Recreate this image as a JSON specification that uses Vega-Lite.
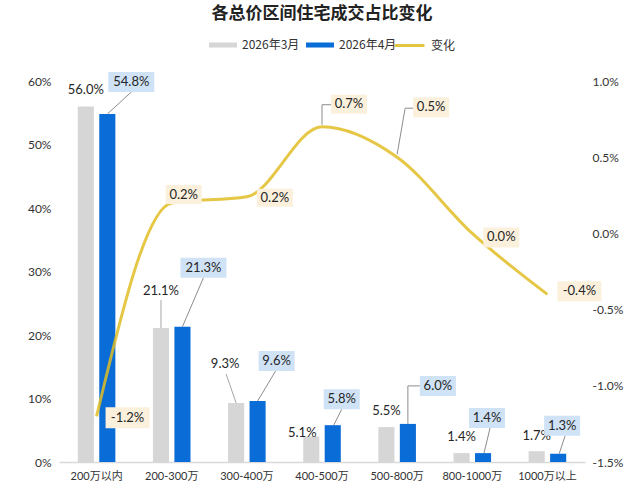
{
  "$schema": "https://vega.github.io/schema/vega-lite/v6.json",
  "width": 526,
  "height": 381,
  "autosize": {"type": "none"},
  "padding": {"left": 59, "top": 81, "right": 55, "bottom": 31},
  "background": "white",
  "title": {
    "text": "各总价区间住宅成交占比变化",
    "font": "Noto Sans CJK SC",
    "fontSize": 17,
    "fontWeight": "bold",
    "color": "#222222",
    "anchor": "middle",
    "offset": 6
  },
  "datasets": {
    "bars": [
      {"cat": "200万以内", "series": "2026年3月", "v": 0.560},
      {"cat": "200-300万", "series": "2026年3月", "v": 0.211},
      {"cat": "300-400万", "series": "2026年3月", "v": 0.093},
      {"cat": "400-500万", "series": "2026年3月", "v": 0.051},
      {"cat": "500-800万", "series": "2026年3月", "v": 0.055},
      {"cat": "800-1000万", "series": "2026年3月", "v": 0.014},
      {"cat": "1000万以上", "series": "2026年3月", "v": 0.017},
      {"cat": "200万以内", "series": "2026年4月", "v": 0.548},
      {"cat": "200-300万", "series": "2026年4月", "v": 0.213},
      {"cat": "300-400万", "series": "2026年4月", "v": 0.096},
      {"cat": "400-500万", "series": "2026年4月", "v": 0.058},
      {"cat": "500-800万", "series": "2026年4月", "v": 0.060},
      {"cat": "800-1000万", "series": "2026年4月", "v": 0.014},
      {"cat": "1000万以上", "series": "2026年4月", "v": 0.013}
    ],
    "chg": [
      {"cat": "200万以内", "chg": -0.012},
      {"cat": "200-300万", "chg": 0.002},
      {"cat": "300-400万", "chg": 0.0024},
      {"cat": "400-500万", "chg": 0.007},
      {"cat": "500-800万", "chg": 0.005},
      {"cat": "800-1000万", "chg": 0.0},
      {"cat": "1000万以上", "chg": -0.004}
    ]
  },
  "encoding": {
    "x": {
      "field": "cat",
      "type": "nominal",
      "sort": ["200万以内", "200-300万", "300-400万", "400-500万", "500-800万", "800-1000万", "1000万以上"],
      "title": null,
      "scale": {"paddingInner": 0.5, "paddingOuter": 0.25},
      "axis": {
        "labelAngle": 0,
        "ticks": false,
        "domainColor": "#d9d9d9",
        "domainWidth": 1.5,
        "labelPadding": 8,
        "labelFontSize": 11,
        "labelColor": "#333333"
      }
    }
  },
  "layer": [
    {
      "data": {"name": "bars"},
      "encoding": {
        "xOffset": {
          "field": "series",
          "type": "nominal",
          "sort": ["2026年3月", "2026年4月"],
          "scale": {"paddingInner": 0.25, "paddingOuter": 0}
        },
        "y": {
          "field": "v",
          "type": "quantitative",
          "title": null,
          "scale": {"domain": [0, 0.6]},
          "axis": {
            "values": [0, 0.1, 0.2, 0.3, 0.4, 0.5, 0.6],
            "format": ".0%",
            "domain": false,
            "ticks": false,
            "grid": false,
            "labelPadding": 8,
            "labelFontSize": 12,
            "labelColor": "#333333"
          }
        }
      },
      "layer": [
        {
          "mark": {"type": "bar"},
          "encoding": {
            "color": {
              "field": "series",
              "type": "nominal",
              "scale": {"domain": ["2026年3月", "2026年4月"], "range": ["#d6d6d6", "#0a6cd6"]},
              "legend": {
                "orient": "none",
                "legendX": 150,
                "legendY": -50,
                "direction": "horizontal",
                "title": null,
                "symbolType": "M-1,-0.18H1V0.18H-1Z",
                "symbolSize": 784,
                "symbolStrokeWidth": 0,
                "labelFontSize": 12,
                "labelColor": "#333333",
                "labelOffset": 5,
                "columnPadding": 6
              }
            }
          }
        },
        {
          "transform": [{"filter": "datum.series == '2026年3月'"}],
          "mark": {"type": "point", "filled": false, "size": 4, "opacity": 1, "stroke": "#a6a6a6", "strokeWidth": 1},
          "encoding": {
            "shape": {
              "field": "cat",
              "type": "nominal",
              "legend": null,
              "scale": {
                "domain": ["200万以内", "200-300万", "300-400万", "400-500万", "500-800万", "800-1000万", "1000万以上"],
                "range": ["M0,0", "M0,0V-28", "M0,0L-10,-29", "M0,0", "M0,0", "M0,0", "M0,0"]
              }
            }
          }
        },
        {
          "transform": [{"filter": "datum.series == '2026年3月'"}],
          "mark": {"type": "point", "filled": true, "size": 4, "opacity": 1, "color": "#ffffff", "strokeWidth": 0},
          "encoding": {
            "shape": {
              "field": "cat",
              "type": "nominal",
              "legend": null,
              "scale": {
                "domain": ["200万以内", "200-300万", "300-400万", "400-500万", "500-800万", "800-1000万", "1000万以上"],
                "range": ["M-22,-25H22V-7H-22Z", "M-22,-46H22V-28H-22Z", "M-29,-48H7V-30H-29Z", "M-27,-6H9V7H-27Z", "M-18,-25H18V-7H-18Z", "M-18,-25H18V-7H-18Z", "M-18,-24H18V-6H-18Z"]
              }
            }
          }
        },
        {
          "transform": [{"filter": "datum.series == '2026年3月'"}],
          "mark": {
            "type": "text",
            "fontSize": 13,
            "color": "#262626",
            "align": "center",
            "baseline": "middle",
            "dx": {"expr": "[0,0,-11,-9,0,0,0][indexof(['200万以内','200-300万','300-400万','400-500万','500-800万','800-1000万','1000万以上'], datum.cat)]"},
            "dy": {"expr": "[-16,-37,-39,3,-16,-16,-15][indexof(['200万以内','200-300万','300-400万','400-500万','500-800万','800-1000万','1000万以上'], datum.cat)]"}
          },
          "encoding": {"text": {"field": "v", "type": "quantitative", "format": ".1%"}}
        },
        {
          "transform": [{"filter": "datum.series == '2026年4月'"}],
          "mark": {"type": "point", "filled": false, "size": 4, "opacity": 1, "stroke": "#8c8c8c", "strokeWidth": 1},
          "encoding": {
            "shape": {
              "field": "cat",
              "type": "nominal",
              "legend": null,
              "scale": {
                "domain": ["200万以内", "200-300万", "300-400万", "400-500万", "500-800万", "800-1000万", "1000万以上"],
                "range": ["M0,0L24,-22", "M0,0L21,-49", "M0,0L18,-30", "M1,0L9,-16", "M0,0V-38H12", "M1,0L7,-25", "M1,0L7,-18"]
              }
            }
          }
        },
        {
          "transform": [{"filter": "datum.series == '2026年4月'"}],
          "mark": {"type": "point", "filled": true, "size": 4, "opacity": 1, "color": "#cfe2f6", "strokeWidth": 0},
          "encoding": {
            "shape": {
              "field": "cat",
              "type": "nominal",
              "legend": null,
              "scale": {
                "domain": ["200万以内", "200-300万", "300-400万", "400-500万", "500-800万", "800-1000万", "1000万以上"],
                "range": ["M1,-42H47V-22H1Z", "M-2,-69H44V-49H-2Z", "M1,-50H37V-30H1Z", "M-9,-36H27V-16H-9Z", "M12,-48H48V-28H12Z", "M-14,-45H22V-25H-14Z", "M-14,-38H22V-18H-14Z"]
              }
            }
          }
        },
        {
          "transform": [{"filter": "datum.series == '2026年4月'"}],
          "mark": {
            "type": "text",
            "fontSize": 13,
            "color": "#262626",
            "align": "center",
            "baseline": "middle",
            "dx": {"expr": "[24,21,19,9,30,4,4][indexof(['200万以内','200-300万','300-400万','400-500万','500-800万','800-1000万','1000万以上'], datum.cat)]"},
            "dy": {"expr": "[-32,-59,-40,-26,-38,-35,-28][indexof(['200万以内','200-300万','300-400万','400-500万','500-800万','800-1000万','1000万以上'], datum.cat)]"}
          },
          "encoding": {"text": {"field": "v", "type": "quantitative", "format": ".1%"}}
        }
      ],
      "resolve": {"scale": {"shape": "independent"}}
    },
    {
      "data": {"name": "chg"},
      "encoding": {
        "y": {
          "field": "chg",
          "type": "quantitative",
          "title": null,
          "scale": {"domain": [-0.015, 0.01]},
          "axis": {
            "orient": "right",
            "values": [-0.015, -0.01, -0.005, 0, 0.005, 0.01],
            "format": ".1%",
            "domain": false,
            "ticks": false,
            "grid": false,
            "labelPadding": 7,
            "labelFontSize": 12,
            "labelColor": "#333333"
          }
        }
      },
      "layer": [
        {
          "mark": {"type": "line", "interpolate": "monotone", "strokeWidth": 3, "opacity": 0.85},
          "encoding": {
            "stroke": {
              "datum": "变化",
              "type": "nominal",
              "scale": {"range": ["#e0bd25"]},
              "legend": {
                "orient": "none",
                "legendX": 334,
                "legendY": -52,
                "title": null,
                "symbolType": "M-1,0H1",
                "symbolSize": 900,
                "symbolStrokeWidth": 3,
                "labelFontSize": 12,
                "labelColor": "#333333",
                "labelOffset": 5
              }
            }
          }
        },
        {
          "mark": {"type": "point", "filled": false, "size": 4, "opacity": 1, "stroke": "#8c8c8c", "strokeWidth": 1},
          "encoding": {
            "shape": {
              "field": "cat",
              "type": "nominal",
              "legend": null,
              "scale": {
                "domain": ["200万以内", "200-300万", "300-400万", "400-500万", "500-800万", "800-1000万", "1000万以上"],
                "range": ["M0,0", "M0,0", "M0,0", "M0,-2V-22H9", "M0,-3L8,-49H16", "M0,0", "M0,0"]
              }
            }
          }
        },
        {
          "mark": {"type": "point", "filled": true, "size": 4, "opacity": 1, "color": "#fbf0dc", "strokeWidth": 0},
          "encoding": {
            "shape": {
              "field": "cat",
              "type": "nominal",
              "legend": null,
              "scale": {
                "domain": ["200万以内", "200-300万", "300-400万", "400-500万", "500-800万", "800-1000万", "1000万以上"],
                "range": ["M9,-9H53V12H9Z", "M-6,-18H30V1H-6Z", "M10,-8H46V10H10Z", "M9,-32H45V-13H9Z", "M16,-60H52V-40H16Z", "M11,-6H47V14H11Z", "M10,-13H54V7H10Z"]
              }
            }
          }
        },
        {
          "mark": {
            "type": "text",
            "fontSize": 13,
            "color": "#262626",
            "align": "center",
            "baseline": "middle",
            "dx": {"expr": "[31,12,28,27,34,29,32][indexof(['200万以内','200-300万','300-400万','400-500万','500-800万','800-1000万','1000万以上'], datum.cat)]"},
            "dy": {"expr": "[2,-8,1,-23,-50,4,-3][indexof(['200万以内','200-300万','300-400万','400-500万','500-800万','800-1000万','1000万以上'], datum.cat)]"}
          },
          "encoding": {"text": {"field": "chg", "type": "quantitative", "format": ".1%"}}
        }
      ],
      "resolve": {"scale": {"shape": "independent"}}
    }
  ],
  "resolve": {"scale": {"y": "independent"}},
  "config": {
    "font": "Lato, 'Noto Sans CJK SC'",
    "view": {"stroke": null},
    "locale": {"number": {"decimal": ".", "thousands": ",", "grouping": [3], "currency": ["", ""], "minus": "-"}},
    "axis": {"labelFont": "Lato, 'Noto Sans CJK SC'"},
    "legend": {"labelFont": "'Noto Sans CJK SC'"}
  }
}
